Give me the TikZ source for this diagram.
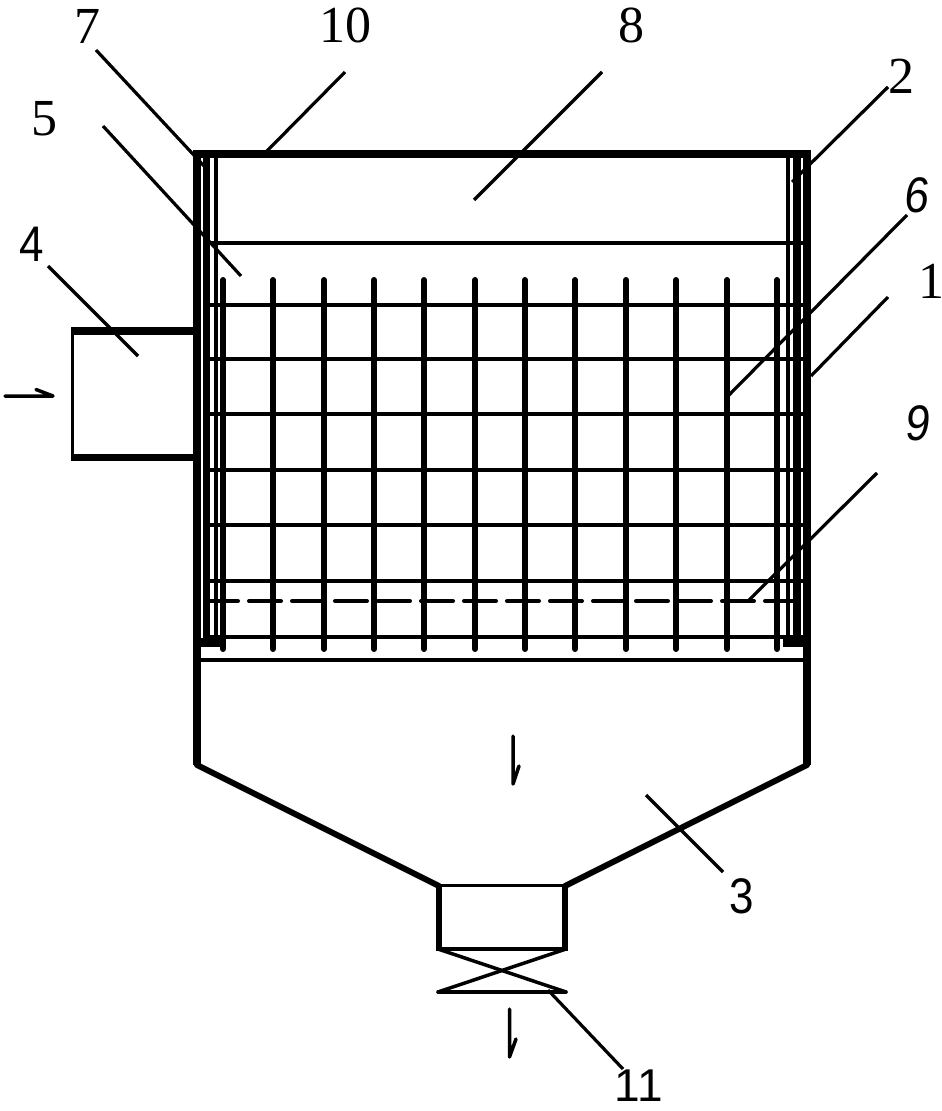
\documentclass[tikz,border=0pt]{standalone}
\usepackage{fontspec}
\setmainfont{Liberation Serif}
\newfontfamily\sansnum{Liberation Sans}
\tikzset{
  wall/.style={line width=8pt,line cap=butt},
  inner wall/.style={line width=7.5pt},
  thin wall/.style={line width=4pt},
  grid line/.style={line width=4pt},
  rod/.style={line width=6pt,line cap=round},
  hop/.style={line width=6pt,line cap=round},
  leader/.style={line width=3.2pt},
  flow/.style={line width=3.5pt,line cap=round,line join=round},
  num/.style={inner sep=0pt,font=\fontsize{52}{52}\selectfont},
  snum/.style={inner sep=0pt,xscale=0.88,font=\sansnum\fontsize{50}{50}\selectfont}
}
\begin{document}
\begin{tikzpicture}[x=1pt,y=-1pt]
\useasboundingbox (0,0) rectangle (942,1111);
% walls
\draw[wall] (197,150) -- (197,765);
\draw[wall] (807,150) -- (807,765);
\draw[wall] (193,153.5) -- (811,153.5);
\draw[inner wall] (206.5,153) -- (206.5,645);
\draw[inner wall] (797,153) -- (797,645);
\draw[thin wall] (216,153) -- (216,645);
\draw[thin wall] (788,153) -- (788,645);
% horizontal lines
\draw[grid line] (210,243) -- (803,243);
\foreach \yy in {305,359,414,470,525,581,637}
  \draw[grid line] (208,\yy) -- (803,\yy);
% rods
\foreach \xx in {223,273,324,374,424,475,525,575,626,676,727,777}
  \draw[rod] (\xx,280) -- (\xx,649);
% bottom blocks
\fill (201,638) rectangle (223,647);
\fill (783,638) rectangle (803,647);
\draw[line width=4pt] (201,660) -- (803,660);
% dashed
\draw[line width=4pt,line cap=round,dash pattern=on 32pt off 11pt] (206,601) -- (798,601);
% inlet
\draw[line width=8pt] (71,331) -- (193,331);
\draw[line width=6.5pt] (71,457.5) -- (193,457.5);
\draw[line width=3.5pt] (72.5,327) -- (72.5,461);
% hopper
\draw[hop] (197,765) -- (439,886);
\draw[hop] (807,765) -- (565,886);
\draw[line width=3.5pt] (437,885.5) -- (567,885.5);
\draw[line width=6pt] (439,885) -- (439,949);
\draw[line width=6pt] (565,885) -- (565,949);
\draw[line width=4pt] (436,949) -- (568,949);
% valve
\draw[line width=3.5pt,line cap=round] (438,949) -- (566,992);
\draw[line width=3.5pt,line cap=round] (566,949) -- (438,992);
\draw[line width=3.5pt,line cap=round] (438,992) -- (566,992);
% flow arrows
\draw[flow] (5,396) -- (53,396) -- (36,389.5);
\draw[flow] (513,736) -- (513,784) -- (519,766);
\draw[flow] (509.5,1009) -- (509.5,1057) -- (516,1039);
% leaders
\draw[leader] (96,50) -- (204,166);
\draw[leader] (103,126) -- (241,276);
\draw[leader] (48,266) -- (138,356);
\draw[leader] (345,72) -- (267,151);
\draw[leader] (602,72) -- (474,200);
\draw[leader] (888,87) -- (792,182);
\draw[leader] (907,215) -- (729,395);
\draw[leader] (888,297) -- (811,376);
\draw[leader] (877,473) -- (748,601);
\draw[leader] (646,795) -- (723,872);
\draw[leader] (623,1069) -- (548,990);
% labels
\node[num]  (n7)  at (87,26) {7};
\node[num]  (n5)  at (44,119) {5};
\node[snum] (n4)  at (32,244) {4};
\node[num]  (n10) at (345,25) {10};
\node[num]  (n8)  at (631,25) {8};
\node[num]  (n2)  at (901,76) {2};
\node[snum,xslant=0.12] (n6)  at (918,195) {6};
\node[num]  (n1)  at (931,281) {1};
\node[snum,xslant=0.12] (n9)  at (919,423) {9};
\node[snum] (n3)  at (742,896) {3};
\node[inner sep=0pt,font=\sansnum\fontsize{46}{46}\selectfont] (n11) at (639,1086) {1\kern-3pt 1};
\end{tikzpicture}
\end{document}
